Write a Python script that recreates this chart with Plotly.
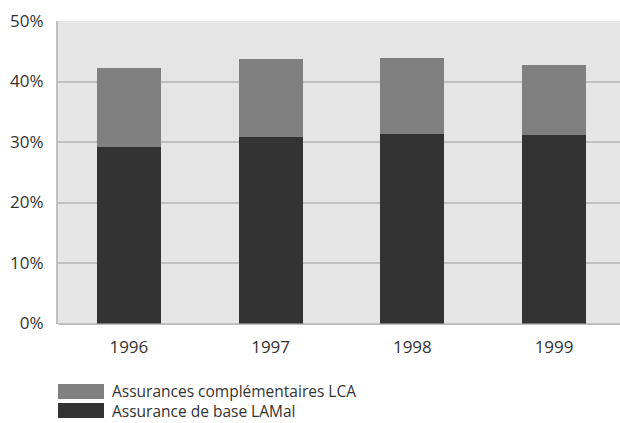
import plotly.graph_objects as go

# Share of premiums by insurance type, per year
years = ["1996", "1997", "1998", "1999"]
lamal = [29.2, 30.8, 31.3, 31.2]          # Assurance de base LAMal
lca_total = [42.2, 43.7, 43.9, 42.7]      # top of stacked bar (LAMal + LCA)
lca = [round(t - b, 1) for t, b in zip(lca_total, lamal)]

y_ticks = [0, 10, 20, 30, 40, 50]
y_tick_labels = ["0%", "10%", "20%", "30%", "40%", "50%"]

series_names = ["Assurances complémentaires LCA", "Assurance de base LAMal"]
dark = "#333333"
mid = "#808080"
text_color = "#333333"
font_family = "Open Sans, Lato, sans-serif"

fig = go.Figure()
fig.add_trace(go.Bar(x=years, y=lamal, name=series_names[1], marker_color=dark,
                     marker_line_width=0, width=0.45, showlegend=False))
fig.add_trace(go.Bar(x=years, y=lca, name=series_names[0], marker_color=mid,
                     marker_line_width=0, width=0.45, showlegend=False))

W, H = 620, 423
x0, x1 = 58, 620
y_top, y_bot = 21, 323.5

fig.update_layout(
    width=W, height=H,
    barmode="stack",
    margin=dict(l=0, r=0, t=0, b=0),
    paper_bgcolor="white",
    plot_bgcolor="#e5e5e5",
    font=dict(family=font_family, color=text_color, size=16),
    xaxis=dict(domain=[x0 / W, x1 / W], range=[-0.5, 3.465], automargin=False,
               showgrid=False, showline=False, ticks="", ticklabelstandoff=11,
               tickfont=dict(size=17), fixedrange=True),
    yaxis=dict(domain=[1 - y_bot / H, 1 - y_top / H], range=[0, 50], automargin=False,
               tickvals=y_ticks, ticktext=y_tick_labels,
               gridcolor="#c0c0c0", gridwidth=2,
               zeroline=True, zerolinecolor="#c0c0c0", zerolinewidth=2,
               showline=True, linecolor="#c0c0c0", linewidth=2,
               ticks="", ticklabelstandoff=9,
               tickfont=dict(size=17), fixedrange=True),
)

# Legend: swatches drawn as shapes, labels in one two-line text block
swatches = [(mid, 384), (dark, 403)]
for color, top in swatches:
    fig.add_shape(type="rect", xref="paper", yref="paper",
                  x0=58 / W, x1=104 / W, y0=1 - (top + 15) / H, y1=1 - top / H,
                  fillcolor=color, line_width=0)
fig.add_annotation(xref="paper", yref="paper", x=110 / W, y=1 - 401 / H,
                   text="<br>".join(series_names), showarrow=False,
                   xanchor="left", yanchor="middle", align="left",
                   font=dict(size=15.5, color=text_color, family=font_family))

fig.write_html("out.html")
